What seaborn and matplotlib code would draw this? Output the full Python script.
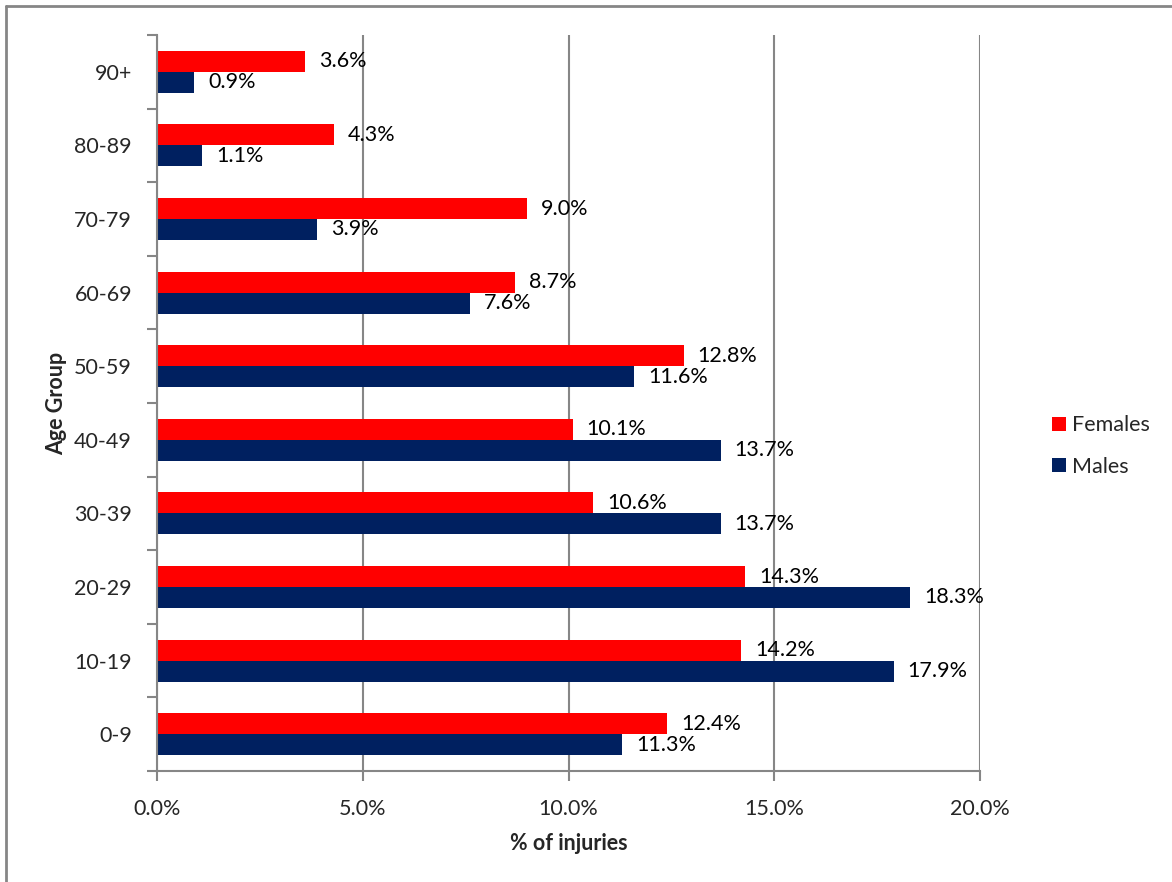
import matplotlib
matplotlib.use('Agg')
from matplotlib import pyplot as plt
from matplotlib.ticker import PercentFormatter, FixedLocator
from matplotlib.lines import Line2D
import pandas as pd
import seaborn as sns

age_groups = ['90+', '80-89', '70-79', '60-69', '50-59',
              '40-49', '30-39', '20-29', '10-19', '0-9']
females = [3.6, 4.3, 9.0, 8.7, 12.8, 10.1, 10.6, 14.3, 14.2, 12.4]
males = [0.9, 1.1, 3.9, 7.6, 11.6, 13.7, 13.7, 18.3, 17.9, 11.3]
series = ['Females', 'Males']
colors = ['#FF0000', '#002060']

df = pd.DataFrame({
    'age': age_groups * 2,
    'pct': females + males,
    'sex': ['Females'] * len(age_groups) + ['Males'] * len(age_groups),
})

sns.set_style('white')
plt.rcParams['font.family'] = ['Lato', 'DejaVu Sans']
grey = '#868686'
fs = 15.5

fig = plt.figure(figsize=(11.72, 8.82), dpi=100)
ax = fig.add_axes([157 / 1172, 1 - 771 / 882, 823 / 1172, 736 / 882])

sns.barplot(data=df, y='age', x='pct', hue='sex', order=age_groups,
            hue_order=series, palette=colors, orient='h', width=0.57,
            linewidth=0, saturation=1, ax=ax, legend=False)

for cont in ax.containers:
    ax.bar_label(cont, labels=[f'{v:.1f}%' for v in cont.datavalues],
                 padding=10, fontsize=fs, color='black')

ax.set_xlim(0, 20)
ax.set_ylim(9.5, -0.5)
ax.set_xticks([0, 5, 10, 15, 20])
ax.xaxis.set_major_formatter(PercentFormatter(xmax=100, decimals=1))
ax.grid(axis='x', color=grey, linewidth=1.5)
ax.grid(axis='y', visible=False)
ax.set_axisbelow(True)

for s in ['top', 'right']:
    ax.spines[s].set_visible(False)
for s in ['left', 'bottom']:
    ax.spines[s].set_color(grey)
    ax.spines[s].set_linewidth(1.5)

ax.tick_params(axis='x', length=7, width=1.5, color=grey, direction='out',
               labelsize=fs, pad=13, bottom=True)
ax.tick_params(axis='y', which='major', length=0, labelsize=fs, pad=18)
ax.yaxis.set_minor_locator(FixedLocator([i - 0.5 for i in range(len(age_groups) + 1)]))
ax.tick_params(axis='y', which='minor', length=7, width=1.5, color=grey,
               direction='out', left=True)

ax.set_xlabel('% of injuries', fontsize=fs, fontweight='bold', labelpad=10)
ax.set_ylabel('Age Group', fontsize=fs, fontweight='bold', labelpad=5)

handles = [Line2D([], [], marker='s', linestyle='none', markersize=10,
                  markerfacecolor=c, markeredgewidth=0) for c in colors]
fig.legend(handles, series, loc='center left',
           bbox_to_anchor=(1029 / 1172, 1 - 446 / 882), frameon=False,
           fontsize=fs, handletextpad=0.1, labelspacing=1.0,
           handlelength=1.0)

# chart area border (left and top only visible)
fig.add_artist(Line2D([6 / 1172, 6 / 1172], [0, 1 - 6 / 882],
                      transform=fig.transFigure, color=grey, linewidth=2))
fig.add_artist(Line2D([6 / 1172, 1], [1 - 6 / 882, 1 - 6 / 882],
                      transform=fig.transFigure, color=grey, linewidth=2))

fig.savefig('out.png', dpi=100)
